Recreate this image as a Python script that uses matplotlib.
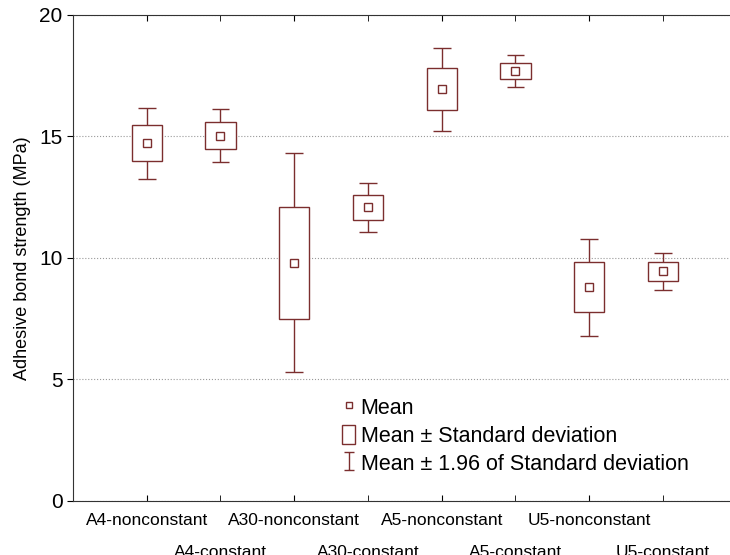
import matplotlib
matplotlib.use("Agg")
import matplotlib.pyplot as plt
from matplotlib.lines import Line2D
from matplotlib.patches import Patch
from matplotlib.path import Path

plt.rcParams['font.family'] = ['Liberation Sans', 'DejaVu Sans']

## data: mean and standard deviation per group
groups = ['A4-nonconstant', 'A4-constant', 'A30-nonconstant', 'A30-constant',
          'A5-nonconstant', 'A5-constant', 'U5-nonconstant', 'U5-constant']
means = [14.72, 15.03, 9.80, 12.08, 16.95, 17.70, 8.80, 9.45]
sds = [0.74, 0.56, 2.30, 0.52, 0.87, 0.34, 1.02, 0.39]

col = '#7b2e2e'
xs = list(range(1, len(groups) + 1))
lo_box = [m - s for m, s in zip(means, sds)]
box_h = [2 * s for s in sds]
lo_wh = [m - 1.96 * s for m, s in zip(means, sds)]
hi_wh = [m + 1.96 * s for m, s in zip(means, sds)]

fig = plt.figure(figsize=(7.3, 5.55), dpi=100)
ax = fig.add_axes([0.1, 0.0973, 0.9, 0.8757])

ax.yaxis.grid(True, ls=':', color='#999999', lw=0.8)
ax.set_axisbelow(True)

# whiskers (mean +- 1.96 sd)
ax.vlines(xs, lo_wh, lo_box, color=col, lw=1)
ax.vlines(xs, [b + h for b, h in zip(lo_box, box_h)], hi_wh, color=col, lw=1)
ax.hlines(lo_wh, [x - 0.12 for x in xs], [x + 0.12 for x in xs], color=col, lw=1)
ax.hlines(hi_wh, [x - 0.12 for x in xs], [x + 0.12 for x in xs], color=col, lw=1)
# boxes (mean +- sd)
ax.bar(xs, box_h, bottom=lo_box, width=0.41, facecolor='white', edgecolor=col, lw=1, zorder=2)
# means
ax.plot(xs, means, ls='none', marker='s', ms=5.5, mfc='white', mec=col, mew=1, zorder=3)

ax.set_xlim(0, 8.91)
ax.set_ylim(0, 20)
ax.set_yticks([0, 5, 10, 15, 20])
# staggered labels: odd groups on first row (major), even groups on second row (minor)
ax.set_xticks(xs[0::2], groups[0::2], fontsize=12.5)
ax.set_xticks(xs[1::2], groups[1::2], minor=True, fontsize=12.5)
ax.tick_params(axis='y', labelsize=15, direction='out', length=4)
ax.tick_params(axis='x', which='major', direction='in', length=4, top=True, pad=9)
ax.tick_params(axis='x', which='minor', direction='in', length=4, top=True, pad=32)
ax.spines['right'].set_visible(False)
for s in ['left', 'bottom', 'top']:
    ax.spines[s].set_color('#333333')
ax.set_ylabel('Adhesive bond strength (MPa)', fontsize=13, labelpad=6)

# legend
ibeam = Path([(-0.5, 1), (0.5, 1), (0, 1), (0, -1), (-0.5, -1), (0.5, -1)],
             [Path.MOVETO, Path.LINETO, Path.MOVETO, Path.LINETO, Path.MOVETO, Path.LINETO])
handles = [
    Line2D([], [], ls='none', marker='s', ms=5, mfc='white', mec=col, mew=1),
    Patch(facecolor='white', edgecolor=col, lw=1),
    Line2D([], [], ls='none', marker=ibeam, ms=13, mec=col, mew=1),
]
labels = ['Mean', 'Mean \u00b1 Standard deviation', 'Mean \u00b1 1.96 of Standard deviation']
ax.legend(handles, labels, loc='upper left', bbox_to_anchor=(0.41, 0.215), frameon=False,
          fontsize=15.5, handlelength=0.6, handleheight=1.0, handletextpad=0.25,
          labelspacing=0.28, borderpad=0, borderaxespad=0)

fig.savefig('out.png', dpi=100)
